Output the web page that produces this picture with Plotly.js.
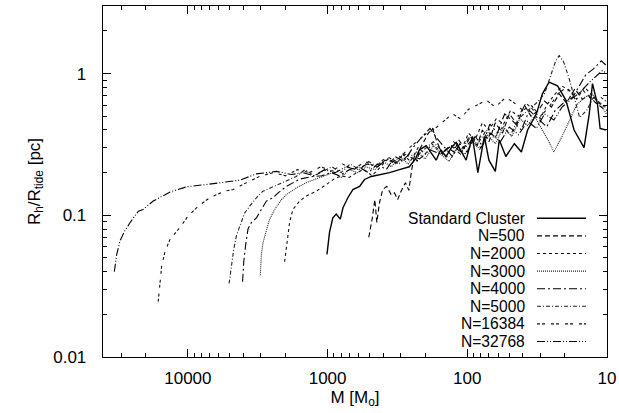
<!DOCTYPE html>
<html>
<head>
<meta charset="utf-8">
<script src="https://cdn.plot.ly/plotly-3.0.1.min.js"></script>
<style>html,body{margin:0;padding:0;background:#fff;}#chart{width:619px;height:413px;}</style>
</head>
<body>
<div id="chart"></div>
<script>
// ---- data (mass in solar masses, Rh/Rtide) ----
const seriesNames = ['Standard Cluster','N=500','N=2000','N=3000','N=4000','N=5000','N=16384','N=32768'];

const massStd = [1010,968,917,867,811,776,716,659,590,544,487,424,360,306,260,235,220,197,180,167,155,142,130,120,110,102,92,84,75.5,70,63,59,53,46,41,37,32,29,26,22.6,19.7,17.2,14.6,13.4,12.7,11.7,11.2,10.2];
const rStd    = [0.053,0.076,0.096,0.102,0.094,0.113,0.133,0.152,0.16,0.179,0.188,0.193,0.20,0.21,0.22,0.25,0.29,0.31,0.27,0.245,0.29,0.26,0.30,0.327,0.28,0.245,0.36,0.20,0.36,0.245,0.204,0.34,0.26,0.32,0.28,0.40,0.52,0.72,0.87,0.82,0.65,0.40,0.30,0.52,0.85,0.61,0.41,0.40];

const mass500 = [507,480,459,444,425,403,377,351,332,315,298,277,262,250,239,228,220,205,190,177,165,150,138,125,115,105,95,85,78,70,63,56,50,44,39,35,31,28,25,22,19.5,17,15,13.5,12,11,10];
const r500    = [0.070,0.094,0.129,0.089,0.123,0.152,0.16,0.14,0.144,0.129,0.148,0.17,0.15,0.21,0.26,0.24,0.29,0.33,0.38,0.41,0.33,0.27,0.30,0.28,0.34,0.30,0.36,0.31,0.40,0.33,0.45,0.38,0.52,0.44,0.60,0.50,0.55,0.64,0.58,0.72,0.62,0.78,0.66,0.70,0.62,0.58,0.55];

const mass2000 = [2030,1970,1920,1870,1770,1585,1420,1205,1020,900,800,700,620,550,480,420,370,330,290,255,225,200,180,160,140,125,110,98,88,78,70,62,55,49,43,38,34,30,27,24,21,18.5,16.5,14.5,13,11.5,10.3];
const r2000    = [0.047,0.061,0.076,0.089,0.11,0.126,0.137,0.148,0.165,0.18,0.19,0.185,0.20,0.21,0.19,0.22,0.25,0.23,0.27,0.24,0.30,0.27,0.32,0.29,0.26,0.33,0.29,0.38,0.34,0.45,0.40,0.48,0.44,0.55,0.50,0.62,0.56,0.48,0.60,0.70,0.82,0.75,0.66,0.80,0.72,0.62,0.58];

const mass3000 = [3030,2980,2900,2740,2600,2390,2140,1970,1675,1420,1205,1050,920,800,700,610,530,460,400,350,305,265,230,200,175,155,135,118,104,92,81,72,63,55,48,42,37,33,29,26,24,21,18.5,16.5,14.5,12.8,11.3,10.1];
const r3000    = [0.0377,0.052,0.064,0.08,0.094,0.11,0.129,0.14,0.156,0.17,0.18,0.19,0.20,0.185,0.21,0.20,0.22,0.21,0.24,0.22,0.26,0.23,0.28,0.25,0.31,0.27,0.24,0.30,0.27,0.33,0.29,0.37,0.32,0.42,0.36,0.48,0.43,0.50,0.40,0.33,0.28,0.36,0.47,0.60,0.68,0.72,0.62,0.52];

const mass4000 = [4060,3980,3850,3710,3510,3230,2980,2740,2460,2260,1970,1585,1275,1100,950,820,700,600,510,440,380,330,285,245,210,185,165,145,128,113,100,88,78,69,61,54,47,41,36,31,27,23.5,20.5,17.6,15.5,14.2,12.5,11,10.2];
const r4000    = [0.034,0.047,0.063,0.08,0.089,0.096,0.11,0.126,0.133,0.144,0.16,0.18,0.188,0.19,0.20,0.19,0.21,0.22,0.20,0.23,0.21,0.26,0.24,0.30,0.36,0.41,0.35,0.30,0.26,0.32,0.28,0.36,0.31,0.44,0.38,0.52,0.46,0.40,0.55,0.48,0.42,0.55,0.62,0.68,0.85,0.98,1.08,1.23,1.15];

const mass5000 = [5070,4880,4690,4490,4200,3920,3610,3230,2900,2460,2080,1675,1450,1250,1080,930,800,690,590,510,440,380,325,280,240,205,175,150,130,112,97,84,73,64,56,49,43,37,32,28,25.5,23.5,22,20.5,18.7,17,15.7,14,12.5,11.2,10.2];
const r5000    = [0.033,0.044,0.058,0.072,0.087,0.104,0.116,0.133,0.148,0.16,0.171,0.188,0.21,0.19,0.205,0.22,0.20,0.23,0.21,0.24,0.22,0.25,0.23,0.27,0.25,0.29,0.33,0.28,0.31,0.27,0.36,0.32,0.40,0.35,0.42,0.37,0.48,0.55,0.62,0.72,0.93,1.2,1.34,1.22,0.93,0.65,0.49,0.55,0.68,0.62,0.58];

const mass16384 = [16300,15850,15400,14600,13400,11400,9950,8430,6970,5450,4740,3810,3060,2460,2000,1650,1350,1120,930,780,650,540,450,380,320,270,230,195,165,145,128,112,98,85,73,63,53,46,40,35,30,26,22.5,19.5,17,14.8,13,11.5,10.2];
const r16384    = [0.0246,0.034,0.044,0.055,0.068,0.082,0.099,0.116,0.133,0.148,0.152,0.17,0.188,0.2,0.19,0.21,0.20,0.22,0.205,0.23,0.21,0.24,0.22,0.26,0.24,0.29,0.33,0.38,0.42,0.47,0.52,0.48,0.56,0.60,0.65,0.58,0.68,0.62,0.55,0.60,0.50,0.58,0.72,0.80,0.70,0.76,0.66,0.70,0.64];

const mass32768 = [33600,32300,30600,28200,25900,22600,20900,17700,13400,10200,7350,5600,4250,3230,2320,1815,1500,1250,1050,880,740,620,520,440,370,310,260,220,185,155,130,110,93,80,68,58,50,43,37,32,28,24,21,18,15.5,13.5,12,10.8,10];
const r32768    = [0.040,0.053,0.066,0.078,0.089,0.107,0.110,0.126,0.146,0.159,0.165,0.171,0.177,0.196,0.204,0.194,0.20,0.19,0.21,0.20,0.22,0.21,0.23,0.22,0.25,0.23,0.27,0.25,0.29,0.27,0.31,0.28,0.34,0.30,0.38,0.33,0.42,0.37,0.46,0.41,0.52,0.47,0.58,0.66,0.74,0.86,0.95,1.05,1.0];

const xTickVals = [10000,1000,100,10];
const xTickText = ['10000','1000','100','10'];
const yTickVals = [0.01,0.1,1];
const yTickText = ['0.01','0.1','1'];

// ---- styling ----
const allX = [massStd,mass500,mass2000,mass3000,mass4000,mass5000,mass16384,mass32768];
const allY = [rStd,r500,r2000,r3000,r4000,r5000,r16384,r32768];
const dashes = ['solid','5px,3px','3px,3px','1px,1px','8px,3px,2px,3px','4px,2px,1px,2px','3px,2px,3px,6px','8px,2px,1px,2px,1px,2px'];
const widths = [1.4,1.1,1.1,1.1,1.1,1.1,1.1,1.1];
const colors = ['#000','#000','#111','#222','#000','#222','#111','#000'];

const traces = seriesNames.map((n,i)=>({
  type:'scatter', mode:'lines', name:n, x:allX[i], y:allY[i],
  line:{color:colors[i], width:widths[i], dash:dashes[i]}, showlegend:false, hoverinfo:'skip'
}));

const minorX=[], minorY=[];
[10,100,1000,10000].forEach(d=>{for(let k=2;k<=9;k++){const v=k*d; if(v<=40500) minorX.push(v);}});
[0.01,0.1,1].forEach(d=>{for(let k=2;k<=9;k++){const v=k*d; if(v<=3.0) minorY.push(+v.toFixed(3));}});

const FONT = 'Liberation Sans, Arial, Helvetica, sans-serif';
const L=103, R=12, T=6, B=56, W=619, H=413;
const pw=W-L-R, ph=H-T-B;

// manual legend (text right-aligned, sample line on right)
const annotations=[], shapes=[];
const textRightPx=526, lineX0px=537, lineX1px=586, row0px=218.3, rowStep=17.6;
seriesNames.forEach((n,i)=>{
  const py=row0px+i*rowStep;
  const yp=(H-B-py)/ph;
  annotations.push({xref:'paper',yref:'paper',x:(textRightPx-L)/pw,y:yp,xanchor:'right',yanchor:'middle',
    text:n,showarrow:false,borderpad:0,valign:'middle',align:'right',
    font:{family:FONT,size:15.6,color:'#000'}});
  shapes.push({type:'line',xref:'paper',yref:'paper',x0:(lineX0px-L)/pw,x1:(lineX1px-L)/pw,y0:yp,y1:yp,
    line:{color:colors[i],width:widths[i],dash:dashes[i]}});
});

const axisCommon = {
  type:'log', showline:true, linecolor:'#000', linewidth:1.3, mirror:'ticks',
  ticks:'inside', ticklen:8, tickwidth:1, tickcolor:'#000',
  showgrid:false, zeroline:false, tickfont:{family:FONT,size:17,color:'#000'}
};

const layout = {
  width:W, height:H, margin:{l:L,r:R,t:T,b:B,pad:0},
  paper_bgcolor:'#fff', plot_bgcolor:'#fff',
  font:{family:FONT,size:17,color:'#000'},
  xaxis:Object.assign({}, axisCommon, {
    range:[Math.log10(40500),1], tickmode:'array', tickvals:xTickVals, ticktext:xTickText,
    minor:{tickmode:'array', tickvals:minorX, ticks:'inside', ticklen:4, tickwidth:1, tickcolor:'#000', showgrid:false},
    ticklabelstandoff:5,
    title:{text:'M [M<sub>o</sub>]', font:{family:FONT,size:17,color:'#000'}, standoff:0}
  }),
  yaxis:Object.assign({}, axisCommon, {
    range:[-2,Math.log10(3.0)], tickmode:'array', tickvals:yTickVals, ticktext:yTickText,
    minor:{tickmode:'array', tickvals:minorY, ticks:'inside', ticklen:4, tickwidth:1, tickcolor:'#000', showgrid:false},
    ticklabelstandoff:12,
    title:{text:'R<sub>h</sub>/R<sub>tide</sub> [pc]', font:{family:FONT,size:17,color:'#000'}, standoff:8}
  }),
  annotations:annotations, shapes:shapes, showlegend:false
};

Plotly.newPlot('chart', traces, layout, {staticPlot:true, displayModeBar:false});
</script>
</body>
</html>
